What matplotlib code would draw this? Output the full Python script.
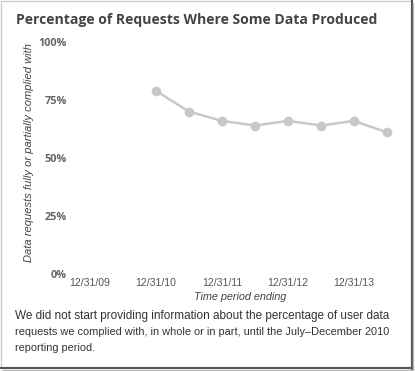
import matplotlib
matplotlib.use("Agg")
import matplotlib.pyplot as plt
from matplotlib.patches import Rectangle
from matplotlib.lines import Line2D

# Data: half-year periods, x in years since 12/31/09
period_x = [1.0, 1.5, 2.0, 2.5, 3.0, 3.5, 4.0, 4.5]
pct_complied = [79, 70, 66, 64, 66, 64, 66, 61]
xtick_pos = [0, 1, 2, 3, 4]
xtick_labels = ["12/31/09", "12/31/10", "12/31/11", "12/31/12", "12/31/13"]
ytick_vals = [0, 25, 50, 75, 100]
ytick_labels = ["0%", "25%", "50%", "75%", "100%"]
footer_lines = [
    "We did not start providing information about the percentage of user data",
    "requests we complied with, in whole or in part, until the July\u2013December 2010",
    "reporting period.",
]

W, H = 415, 371
fig = plt.figure(figsize=(W / 100, H / 100), dpi=100)
fig.patch.set_facecolor("white")

def fx(px):
    return px / W

def fy(py):
    return 1 - py / H

ax = fig.add_axes([fx(72), fy(274), fx(403) - fx(72), fy(42) - fy(274)])
ax.set_xlim(-0.27, 4.74)
ax.set_ylim(0, 100)
for s in ax.spines.values():
    s.set_visible(False)
ax.axhline(0, color="#e2e2e2", lw=1.0, zorder=1)

ax.plot(period_x, pct_complied, color="#c8c8c8", lw=1.8, marker="o",
        markersize=6.0, markerfacecolor="#c8c8c8", markeredgecolor="#c8c8c8",
        zorder=3, clip_on=False)

ax.set_yticks(ytick_vals)
ax.set_yticklabels(ytick_labels, fontfamily="Open Sans", fontweight="bold",
                   fontsize=7.8, color="#666666")
ax.set_xticks(xtick_pos)
ax.set_xticklabels(xtick_labels, fontfamily="Liberation Sans", fontsize=7.6,
                   color="#555555")
ax.tick_params(axis="y", length=0, pad=3.6)
ax.tick_params(axis="x", length=0, pad=3.0)

fig.text(fx(240), fy(297), "Time period ending", ha="center", va="center",
         fontfamily="Liberation Sans", fontstyle="italic", fontsize=7.8,
         color="#444444")
fig.text(fx(29), fy(153), "Data requests fully or partially complied with",
         ha="center", va="center", rotation=90, fontfamily="Liberation Sans",
         fontstyle="italic", fontsize=8.0, color="#444444")

fig.text(fx(16), fy(20), "Percentage of Requests Where Some Data Produced",
         ha="left", va="center", fontfamily="Open Sans", fontweight="bold",
         fontsize=10.1, color="#444444")

footer_sizes = [8.45, 7.9, 7.8]
footer_baselines = [319, 335, 351]
for line, size, base in zip(footer_lines, footer_sizes, footer_baselines):
    fig.text(fx(15), fy(base), line, ha="left", va="baseline",
             fontfamily="Liberation Sans", fontsize=size, color="#333333")

# screenshot frame
fig.add_artist(Rectangle((fx(0.5), fy(368)), fx(411) - fx(0.5), fy(0.5) - fy(368),
                         transform=fig.transFigure, fill=False,
                         edgecolor="#cfcfcf", lw=1.0))
fig.add_artist(Line2D([fx(411.5), fx(411.5)], [fy(1), fy(368.5)],
                      transform=fig.transFigure, color="#555555", lw=1.5))
fig.add_artist(Line2D([fx(1), fx(411.5)], [fy(368), fy(368)],
                      transform=fig.transFigure, color="#555555", lw=1.5))
fig.add_artist(Line2D([fx(413), fx(413)], [fy(3), fy(370)],
                      transform=fig.transFigure, color="#bbbbbb", lw=1.0))
fig.add_artist(Line2D([fx(3), fx(413)], [fy(370), fy(370)],
                      transform=fig.transFigure, color="#bbbbbb", lw=1.0))

fig.savefig("out.png", dpi=100, facecolor="white")
